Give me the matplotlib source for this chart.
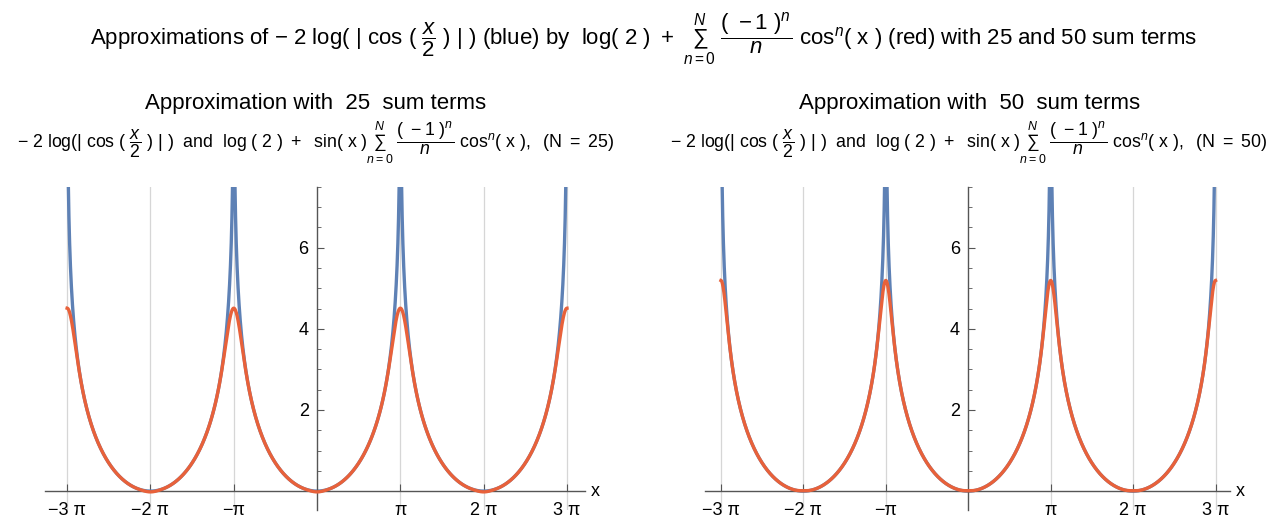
import numpy as np
import matplotlib
matplotlib.use("Agg")
import matplotlib.pyplot as plt
from matplotlib.ticker import MultipleLocator, FixedLocator

# number of sum terms in each panel
term_counts = [25, 50]
# plotted interval, in multiples of pi
x_range_pi = [-3, 3]
y_top = 7.5
y_bottom = -0.47
x_tick_pi = [-3, -2, -1, 1, 2, 3]
x_tick_labels = ["\u22123 \u03c0", "\u22122 \u03c0", "\u2212\u03c0", "\u03c0", "2 \u03c0", "3 \u03c0"]
y_ticks = [2, 4, 6]

blue = "#5E81B5"
red = "#E8613A"

plt.rcParams["font.family"] = ["Liberation Sans", "DejaVu Sans"]
plt.rcParams["mathtext.fontset"] = "custom"
plt.rcParams["mathtext.rm"] = "Liberation Sans"
plt.rcParams["mathtext.it"] = "Liberation Sans:italic"
plt.rcParams["mathtext.bf"] = "Liberation Sans:bold"


def exact(x):
    with np.errstate(divide="ignore"):
        return -2 * np.log(np.abs(np.cos(x / 2)))


def partial_sum(x, N):
    c = np.cos(x)
    s = np.full_like(x, np.log(2))
    for n in range(1, N + 1):
        s += (-1) ** n * c ** n / n
    return s


x = np.linspace(x_range_pi[0] * np.pi, x_range_pi[1] * np.pi, 12001)

fig = plt.figure(figsize=(12.87, 5.19), dpi=100)

fig.text(0.5, 0.925,
         r"Approximations of $-\ 2\ \mathrm{log(\ |\ cos\ (}\ \dfrac{\mathit{x}}{2}\ \mathrm{)\ |\ )}$ (blue) by  "
         r"$\mathrm{log(\ 2\ )\ +}\ \sum_{\mathit{n}=0}^{\mathit{N}}\ \dfrac{(\ -1\ )^{\mathit{n}}}{\mathit{n}}\ \mathrm{cos}^{\mathit{n}}\mathrm{(\ x\ )}$"
         " (red) with 25 and 50 sum terms",
         ha="center", va="center", fontsize=16)

# axes boxes in figure coords (left, bottom, width, height)
boxes = [[0.035, 0.017, 0.4196, 0.623], [0.548, 0.017, 0.408, 0.623]]
xlims = [(-3.265, 3.217), (-3.19, 3.18)]
title_x = [0.245, 0.753]

for ax_box, xl, N, tx in zip(boxes, xlims, term_counts, title_x):
    ax = fig.add_axes(ax_box)
    for k in x_tick_pi:
        ax.axvline(k * np.pi, color="#d6d6d6", lw=0.9, zorder=0)
    ax.plot(x, exact(x), color=blue, lw=2.4, zorder=2)
    ax.plot(x, partial_sum(x, N), color=red, lw=2.4, zorder=3)
    ax.set_xlim(xl[0] * np.pi, xl[1] * np.pi)
    ax.set_ylim(y_bottom, y_top)

    for side in ["top", "right"]:
        ax.spines[side].set_visible(False)
    ax.spines["left"].set_position(("data", 0))
    ax.spines["bottom"].set_position(("data", 0))
    for side in ["left", "bottom"]:
        ax.spines[side].set_color("#555555")
        ax.spines[side].set_linewidth(1.0)

    ax.xaxis.set_major_locator(FixedLocator([k * np.pi for k in x_tick_pi]))
    ax.set_xticklabels(x_tick_labels)
    ax.yaxis.set_major_locator(FixedLocator(y_ticks))
    ax.yaxis.set_minor_locator(MultipleLocator(0.5))
    ax.tick_params(axis="x", direction="in", length=5, width=0.8, color="#555555",
                   labelsize=13, pad=8)
    ax.tick_params(axis="y", which="major", direction="in", length=5, width=0.8,
                   color="#555555", labelsize=13, pad=6)
    ax.tick_params(axis="y", which="minor", direction="in", length=3, width=0.6,
                   color="#555555")
    ax.patch.set_alpha(0)

    ax.text(1.01, -y_bottom / (y_top - y_bottom), "x", transform=ax.transAxes,
            fontsize=13, ha="left", va="center")

    fig.text(tx, 0.80, "Approximation with  %d  sum terms" % N,
             ha="center", va="center", fontsize=16)
    fig.text(tx, 0.725,
             r"$-\ 2\ \mathrm{log(|\ cos\ (}\ \dfrac{\mathit{x}}{2}\ \mathrm{)\ |\ )}$  and  "
             r"$\mathrm{log\ (\ 2\ )\ +\ \ sin(\ x\ )}\sum_{\mathit{n}=0}^{\mathit{N}}\ \dfrac{(\ -1\ )^{\mathit{n}}}{\mathit{n}}\ \mathrm{cos}^{\mathit{n}}\mathrm{(\ x\ ),\ \ (N\ =\ %d)}$" % N,
             ha="center", va="center", fontsize=12.8)

fig.savefig("out.png", dpi=100)
